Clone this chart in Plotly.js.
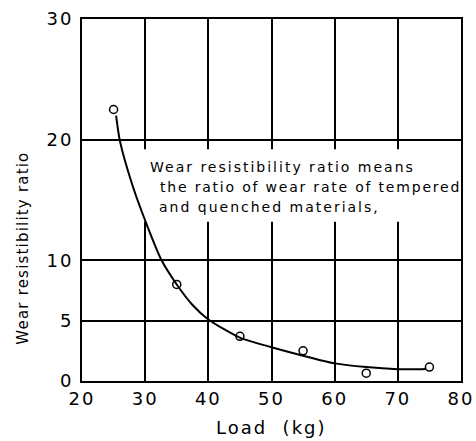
<!DOCTYPE html>
<html>
<head>
<meta charset="utf-8">
<script src="https://cdn.plot.ly/plotly-3.0.1.min.js"></script>
<style>html,body{margin:0;padding:0;background:#fff;}#chart{width:476px;height:441px;}</style>
</head>
<body>
<div id="chart"></div>
<script>
// Measured points
var loadKg = [25, 35, 45, 55, 65, 75];
var wearRatio = [22.5, 8.0, 3.7, 2.5, 0.65, 1.15];
// Fitted curve
var curveLoad = [25.4, 26, 28, 30, 32.6, 35, 37.5, 40, 45, 50, 55, 60, 65, 70, 72.5, 74.4];
var curveRatio = [22.0, 19.9, 16.2, 13.3, 10.0, 8.0, 6.3, 5.1, 3.6, 2.8, 2.1, 1.46, 1.15, 0.98, 0.97, 1.0];
var xTicks = [20, 30, 40, 50, 60, 70, 80];
var yTicks = [0, 5, 10, 20, 30];
var noteLines = ["Wear resistibility ratio means", "the ratio of wear rate of tempered", "and quenched materials,"];
var noteX = [30.44, 32.0, 31.85];
var noteY = [17.73, 16.07, 14.42];
var noteSpacing = [2, 1.8, 2];

var F = "DejaVu Sans, sans-serif";
function sp(t, ls) { return '<span style="letter-spacing:' + ls + 'px">' + t + '</span>'; }
var traces = [
  {x: curveLoad, y: curveRatio, mode: 'lines', line: {color: '#000', width: 2, shape: 'spline', smoothing: 0.7}, hoverinfo: 'skip'},
  {x: loadKg, y: wearRatio, mode: 'markers', marker: {symbol: 'circle-open', size: 8, color: '#000', line: {width: 1.5, color: '#000'}}}
];
var ann = noteLines.map(function(t, i){
  return {x: noteX[i], y: noteY[i], xref: 'x', yref: 'y', text: sp(t, noteSpacing[i]), showarrow: false, xanchor: 'left', yanchor: 'middle', font: {family: F, size: 14, color: '#000'}};
});
ann.push({xref: 'paper', yref: 'paper', x: -0.156, y: 0.368, text: sp('Wear resistibility ratio', 1.2), textangle: -90, showarrow: false, xanchor: 'center', yanchor: 'middle', font: {family: F, size: 15, color: '#000'}});
ann.push({xref: 'paper', yref: 'paper', x: 0.5, y: -0.128, text: sp('Load  (kg)', 2), showarrow: false, xanchor: 'center', yanchor: 'middle', font: {family: F, size: 18, color: '#000'}});
var layout = {
  width: 476, height: 441,
  margin: {l: 82, r: 15, t: 19, b: 60},
  paper_bgcolor: '#fff', plot_bgcolor: '#fff',
  showlegend: false,
  xaxis: {range: [20, 80], tickvals: xTicks, ticktext: xTicks.map(function(v){return sp(String(v), 2);}), ticks: '', showgrid: true, gridcolor: '#000', gridwidth: 2,
    showline: true, mirror: true, linecolor: '#000', linewidth: 2, zeroline: false,
    tickfont: {family: F, size: 18, color: '#000'}, ticklabelstandoff: 0},
  yaxis: {range: [0, 30], tickvals: yTicks, ticktext: yTicks.map(function(v){return sp(String(v), 2);}), ticks: '', showgrid: true, gridcolor: '#000', gridwidth: 2,
    showline: true, mirror: true, linecolor: '#000', linewidth: 2, zeroline: false,
    tickfont: {family: F, size: 18, color: '#000'}, ticklabelstandoff: 3},
  shapes: [{type: 'rect', xref: 'x', yref: 'y', x0: 29.6, x1: 79.8, y0: 13.2, y1: 19.2, fillcolor: '#fff', line: {width: 0}, layer: 'between'}],
  annotations: ann
};
Plotly.newPlot('chart', traces, layout, {staticPlot: true});
</script>
</body>
</html>
